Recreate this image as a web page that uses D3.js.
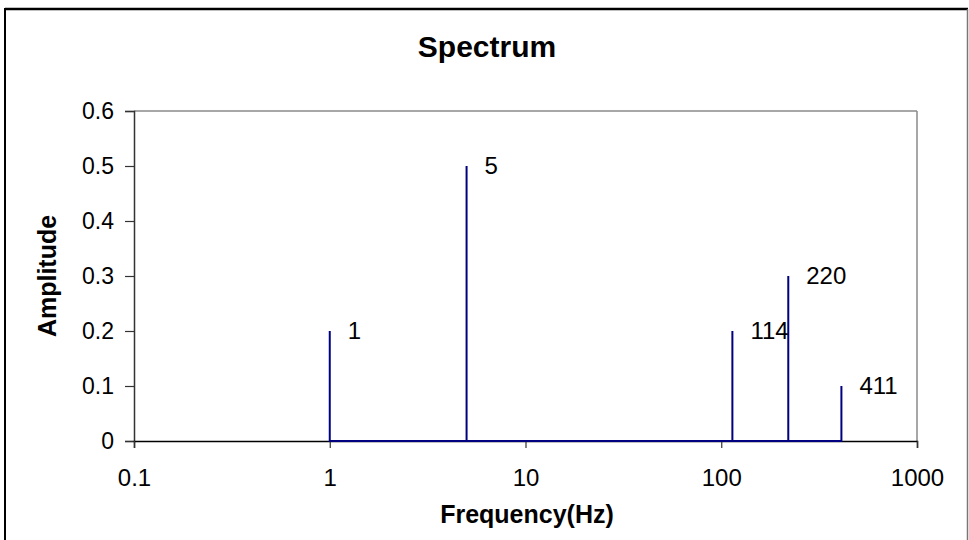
<!DOCTYPE html>
<html><head><meta charset="utf-8">
<script src="https://cdn.jsdelivr.net/npm/d3@7"></script>
<style>
html,body{margin:0;padding:0;background:#fff;}
svg text{font-family:"Liberation Sans",Arial,Helvetica,sans-serif;fill:#000;}
</style></head>
<body>
<svg id="chart" width="969" height="540"></svg>
<script>
// Data
const frequencies = [1, 5, 114, 220, 411];
const amplitudes = [0.2, 0.5, 0.2, 0.3, 0.1];
const peakLabels = ["1", "5", "114", "220", "411"];
const xTicks = [0.1, 1, 10, 100, 1000];
const xTickLabels = ["0.1", "1", "10", "100", "1000"];
const yTicks = [0, 0.1, 0.2, 0.3, 0.4, 0.5, 0.6];
const yTickLabels = ["0", "0.1", "0.2", "0.3", "0.4", "0.5", "0.6"];
const title = "Spectrum";
const xTitle = "Frequency(Hz)";
const yTitle = "Amplitude";

const svg = d3.select("#chart");
const L = 134, R = 917, T = 111, B = 441;

const x = d3.scaleLog().domain([0.1, 1000]).range([L, R]);
const y = d3.scaleLinear().domain([0, 0.6]).range([B, T]);

// outer frame
svg.append("line").attr("x1", 5).attr("y1", 9).attr("x2", 968).attr("y2", 9)
  .attr("stroke", "#000").attr("stroke-width", 2.5);
svg.append("line").attr("x1", 5).attr("y1", 8).attr("x2", 5).attr("y2", 540)
  .attr("stroke", "#000").attr("stroke-width", 2);
svg.append("line").attr("x1", 967.5).attr("y1", 9).attr("x2", 967.5).attr("y2", 540)
  .attr("stroke", "#777").attr("stroke-width", 1.5);

// plot border (top & right gray)
svg.append("line").attr("x1", L).attr("y1", T).attr("x2", R).attr("y2", T)
  .attr("stroke", "#8a8a8a").attr("stroke-width", 1.5);
svg.append("line").attr("x1", R).attr("y1", T).attr("x2", R).attr("y2", B)
  .attr("stroke", "#8a8a8a").attr("stroke-width", 1.5);

// y axis
const yAxis = d3.axisLeft(y).tickValues(yTicks).tickSize(9).tickPadding(11)
  .tickFormat((d, i) => yTickLabels[i]);
const gy = svg.append("g").attr("transform", `translate(${L},0)`).call(yAxis);
gy.select(".domain").attr("stroke", "#333").attr("stroke-width", 1.5);
gy.selectAll(".tick line").attr("stroke", "#333").attr("stroke-width", 1.2);
gy.selectAll("text").attr("font-size", 23).attr("fill", "#000")
  .style("font-family", '"Liberation Sans", Arial, sans-serif');

// x axis
const xAxis = d3.axisBottom(x).tickValues(xTicks).tickSize(7).tickPadding(21)
  .tickFormat((d, i) => xTickLabels[i]);
const gx = svg.append("g").attr("transform", `translate(0,${B})`).call(xAxis);
gx.select(".domain").attr("stroke", "#000").attr("stroke-width", 1.5);
gx.selectAll(".tick line").attr("stroke", "#333").attr("stroke-width", 1.2);
gx.selectAll("text").attr("font-size", 24).attr("fill", "#000")
  .style("font-family", '"Liberation Sans", Arial, sans-serif');

// spectrum polyline
const pts = [];
frequencies.forEach((f, i) => {
  pts.push([f, 0]);
  pts.push([f, amplitudes[i]]);
  pts.push([f, 0]);
});
const line = d3.line().x(d => x(d[0])).y(d => y(d[1]));
svg.append("path").datum(pts).attr("d", line)
  .attr("fill", "none").attr("stroke", "#000080").attr("stroke-width", 2);

// peak labels
svg.selectAll(".plabel").data(frequencies).enter().append("text")
  .attr("class", "plabel")
  .attr("x", d => x(d) + 18)
  .attr("y", (d, i) => y(amplitudes[i]))
  .attr("dy", "0.35em")
  .attr("font-size", 24)
  .text((d, i) => peakLabels[i]);

// titles
svg.append("text").attr("x", 487).attr("y", 57).attr("text-anchor", "middle")
  .attr("font-size", 30).attr("font-weight", "bold").text(title);
svg.append("text").attr("x", 527).attr("y", 523).attr("text-anchor", "middle")
  .attr("font-size", 25).attr("font-weight", "bold").text(xTitle);
svg.append("text").attr("transform", "translate(56,276) rotate(-90)")
  .attr("text-anchor", "middle")
  .attr("font-size", 25).attr("font-weight", "bold").text(yTitle);
</script>
</body></html>
